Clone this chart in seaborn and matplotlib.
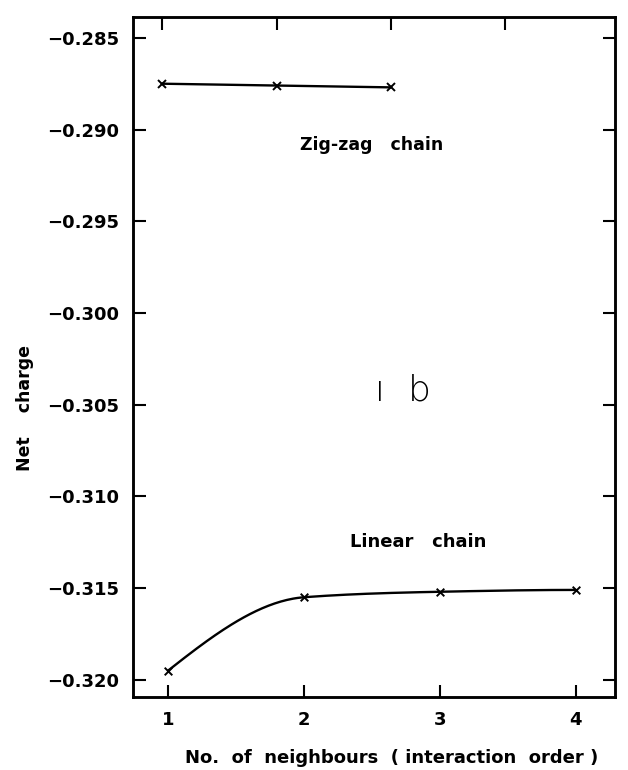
import numpy as np
import pandas as pd
import matplotlib
matplotlib.use('Agg')
import matplotlib.pyplot as plt
import seaborn as sns

# data
zigzag_order = [1, 2, 3]
zigzag_charge = [-0.2875, -0.2876, -0.2877]
linear_order = [1, 2, 3, 4]
linear_charge = [-0.3195, -0.3155, -0.3152, -0.3151]
y_ticks = [-0.285, -0.290, -0.295, -0.300, -0.305, -0.310, -0.315, -0.320]
x_ticks = [1, 2, 3, 4]
x_tick_labels = ['1', '2', '3', '4']


def pchip(x, y, xs):
    # monotone cubic through the measured points, only used to draw the smooth curve
    x = np.asarray(x, float)
    y = np.asarray(y, float)
    h = np.diff(x)
    d = np.diff(y) / h
    m = np.zeros_like(y)
    for k in range(1, len(x) - 1):
        if d[k - 1] * d[k] > 0:
            w1 = 2 * h[k] + h[k - 1]
            w2 = h[k] + 2 * h[k - 1]
            m[k] = (w1 + w2) / (w1 / d[k - 1] + w2 / d[k])
    m[0] = ((2 * h[0] + h[1]) * d[0] - h[0] * d[1]) / (h[0] + h[1])
    m[-1] = ((2 * h[-1] + h[-2]) * d[-1] - h[-1] * d[-2]) / (h[-1] + h[-2])
    idx = np.clip(np.searchsorted(x, xs) - 1, 0, len(x) - 2)
    t = (xs - x[idx]) / h[idx]
    h00 = 2 * t**3 - 3 * t**2 + 1
    h10 = t**3 - 2 * t**2 + t
    h01 = -2 * t**3 + 3 * t**2
    h11 = t**3 - t**2
    return h00 * y[idx] + h10 * h[idx] * m[idx] + h01 * y[idx + 1] + h11 * h[idx] * m[idx + 1]


sns.set_style('ticks')
plt.rcParams['font.family'] = ['DejaVu Sans']
plt.rcParams['text.color'] = 'black'
plt.rcParams['axes.labelcolor'] = 'black'
plt.rcParams['xtick.color'] = 'black'
plt.rcParams['ytick.color'] = 'black'

fig = plt.figure(figsize=(6.28, 7.7), dpi=100)
ax = fig.add_axes([0.212, 0.095, 0.767, 0.883])

df_lin = pd.DataFrame({'order': linear_order, 'charge': linear_charge})
xs = np.linspace(linear_order[0], linear_order[-1], 200)
df_curve = pd.DataFrame({'order': xs, 'charge': pchip(linear_order, linear_charge, xs)})
sns.lineplot(data=df_curve, x='order', y='charge', ax=ax, color='black', linewidth=1.7)
sns.scatterplot(data=df_lin, x='order', y='charge', ax=ax, marker='x', color='black',
                s=30, linewidth=1.4, zorder=3)

ax.set_xlim(0.743, 4.287)
ax.set_ylim(-0.32093, -0.28386)
ax.set_xticks(x_ticks)
ax.set_xticklabels(x_tick_labels, fontsize=13, fontweight='bold')
ax.set_yticks(y_ticks)
ax.set_yticklabels([('%.3f' % v).replace('-', '\u2212') for v in y_ticks],
                   fontsize=13, fontweight='bold')
ax.tick_params(direction='in', length=9, width=1.5, right=True, labelright=False, pad=10)
for s in ax.spines.values():
    s.set_linewidth(1.8)
    s.set_color('black')

ax.set_xlabel('No.  of  neighbours  ( interaction  order )', fontsize=13, fontweight='bold')
ax.xaxis.set_label_coords(0.537, -0.076)
ax.set_ylabel('Net    charge', fontsize=12.5, fontweight='bold')
ax.yaxis.set_label_coords(-0.205, 0.425)

# zig-zag chain uses the scale of the top axis
ax2 = ax.twiny()
df_zz = pd.DataFrame({'order': zigzag_order, 'charge': zigzag_charge})
sns.lineplot(data=df_zz, x='order', y='charge', ax=ax2, color='black', linewidth=1.7,
             marker='x', markersize=6, markeredgewidth=1.4, markeredgecolor='black')
ax2.set_xlim(0.747, 4.956)
ax2.set_xticks(x_ticks)
ax2.set_xticklabels([])
ax2.set_xlabel('')
ax2.tick_params(direction='in', length=9, width=1.5)
for s in ax2.spines.values():
    s.set_linewidth(1.8)
    s.set_color('black')

ax.text(0.346, 0.812, 'Zig-zag   chain', transform=ax.transAxes, fontsize=12.5,
        fontweight='bold', ha='left', va='center')
ax.text(0.45, 0.228, 'Linear   chain', transform=ax.transAxes, fontsize=13,
        fontweight='bold', ha='left', va='center')
ax.text(0.56, 0.45, '\u0131  b', transform=ax.transAxes, fontsize=26,
        fontweight='light', ha='center', va='center')

fig.savefig('out.png', dpi=100)
